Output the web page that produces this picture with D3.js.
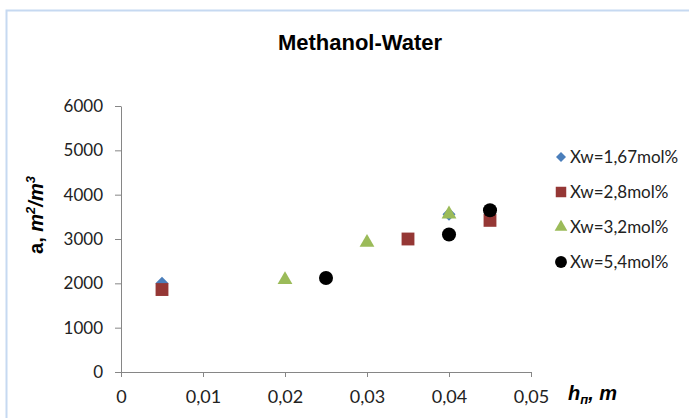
<!DOCTYPE html>
<html>
<head>
<meta charset="UTF-8">
<title>Methanol-Water</title>
<script src="https://d3js.org/d3.v7.min.js"></script>
<style>
    body { margin: 0; background: #fff; }
    svg { display: block; }
</style>
</head>
<body>
<svg width="689" height="418"></svg>
<script>
    // data
    const seriesNames = ["Xw=1,67mol%", "Xw=2,8mol%", "Xw=3,2mol%", "Xw=5,4mol%"];
    const s1 = [[0.005, 2000], [0.04, 3560], [0.04, 3100]];
    const s2 = [[0.005, 1860], [0.035, 3000], [0.045, 3420]];
    const s3 = [[0.02, 2080], [0.03, 2920], [0.04, 3560]];
    const s4 = [[0.025, 2120], [0.04, 3100], [0.045, 3650]];
    const xTicks = [0, 0.01, 0.02, 0.03, 0.04, 0.05];
    const yTicks = [0, 1000, 2000, 3000, 4000, 5000, 6000];

    const allSeries = [s1, s2, s3, s4];
    const colors = ["#4a7ebb", "#953735", "#9bbb59", "#000000"];
    const symbols = [d3.symbolSquare, d3.symbolSquare, d3.symbolTriangle, d3.symbolCircle];
    const sizes = [85, 165, 95, 155];
    const legendSizes = [50, 110, 70, 110];
    const rotations = [45, 0, 0, 0];

    const svg = d3.select("svg");
    const font = "Lato, 'Open Sans', sans-serif";
    const boldFont = "'Liberation Sans', Arial, sans-serif";

    // chart border
    svg.append("path")
        .attr("d", "M6.5,418 V10.5 H689")
        .attr("fill", "none")
        .attr("stroke", "#c6d9f1")
        .attr("stroke-width", 2);

    const x = d3.scaleLinear().domain([0, 0.05]).range([121, 531]);
    const y = d3.scaleLinear().domain([0, 6000]).range([372, 106]);

    const fmt = d => d === 0 ? "0" : d3.format(".2f")(d).replace(".", ",");

    const xAxis = svg.append("g")
        .attr("transform", "translate(0,372)")
        .call(d3.axisBottom(x).tickValues(xTicks).tickFormat(fmt).tickSize(5).tickSizeOuter(0));
    const yAxis = svg.append("g")
        .attr("transform", "translate(121,0)")
        .call(d3.axisLeft(y).tickValues(yTicks).tickFormat(d3.format("d")).tickSize(6).tickSizeOuter(0));

    [xAxis, yAxis].forEach(g => {
        g.select(".domain").attr("stroke", "#868686");
        g.selectAll(".tick line").attr("stroke", "#868686");
        g.selectAll("text")
            .attr("fill", "#222")
            .style("font-family", font);
    });
    xAxis.selectAll("text").attr("y", 31).attr("dy", null).style("font-size", "18px");
    yAxis.selectAll("text").attr("x", -18).style("font-size", "17px");

    // points
    allSeries.forEach((s, i) => {
        svg.append("g").selectAll("path")
            .data(s)
            .join("path")
            .attr("transform", d => `translate(${x(d[0])},${y(d[1])}) rotate(${rotations[i]})`)
            .attr("d", d3.symbol().type(symbols[i]).size(sizes[i]))
            .attr("fill", colors[i]);
    });

    // title
    svg.append("text")
        .attr("x", 360).attr("y", 50)
        .attr("text-anchor", "middle")
        .style("font-family", boldFont)
        .style("font-weight", "bold")
        .style("font-size", "22px")
        .text("Methanol-Water");

    // y axis title
    const yt = svg.append("text")
        .attr("transform", "translate(43,215) rotate(-90)")
        .attr("text-anchor", "middle")
        .style("font-family", boldFont)
        .style("font-weight", "bold")
        .style("font-size", "20px");
    yt.append("tspan").text("a, ");
    yt.append("tspan").style("font-style", "italic").text("m");
    yt.append("tspan").style("font-style", "italic").style("font-size", "13px").attr("dy", -8).text("2");
    yt.append("tspan").style("font-style", "italic").attr("dy", 8).text("/m");
    yt.append("tspan").style("font-style", "italic").style("font-size", "13px").attr("dy", -8).text("3");

    // x axis title
    const xt = svg.append("text")
        .attr("x", 568).attr("y", 400)
        .style("font-family", boldFont)
        .style("font-weight", "bold")
        .style("font-style", "italic")
        .style("font-size", "20px");
    xt.append("tspan").text("h");
    xt.append("tspan").style("font-size", "13px").attr("dy", 4).text("п");
    xt.append("tspan").attr("dy", -4).text(", m");

    // legend
    const legendY = [157, 192, 227, 262];
    const legend = svg.append("g");
    seriesNames.forEach((name, i) => {
        legend.append("path")
            .attr("transform", `translate(561,${legendY[i]}) rotate(${rotations[i]})`)
            .attr("d", d3.symbol().type(symbols[i]).size(legendSizes[i]))
            .attr("fill", colors[i]);
        legend.append("text")
            .attr("x", 570).attr("y", legendY[i])
            .attr("dy", "0.36em")
            .style("font-family", font)
            .style("font-size", "17px")
            .attr("fill", "#222")
            .text(name);
    });
</script>
</body>
</html>
